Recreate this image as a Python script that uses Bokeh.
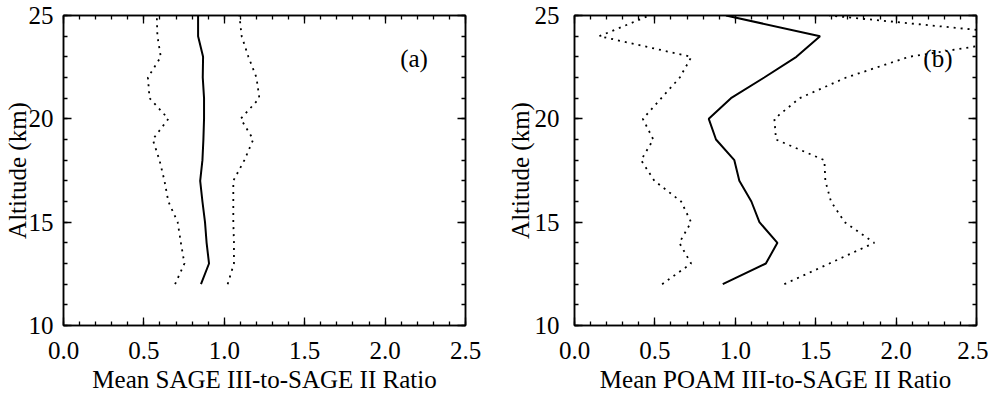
from bokeh.plotting import figure
from bokeh.layouts import row
from bokeh.models import Range1d, LinearAxis, SingleIntervalTicker, Label
from bokeh.embed import file_html
from bokeh.resources import INLINE

altitude = [12, 13, 14, 15, 16, 17, 18, 19, 20, 21, 22, 23, 24, 25]

sage3_mean = [0.855, 0.905, 0.89, 0.88, 0.864, 0.85, 0.864, 0.87, 0.874, 0.874, 0.866, 0.868, 0.837, 0.837]
sage3_low = [0.694, 0.752, 0.73, 0.71, 0.652, 0.628, 0.597, 0.555, 0.652, 0.535, 0.525, 0.605, 0.584, 0.58]
sage3_high = [1.021, 1.06, 1.06, 1.056, 1.056, 1.056, 1.125, 1.18, 1.102, 1.218, 1.2, 1.15, 1.108, 1.094]

poam_mean = [0.922, 1.19, 1.262, 1.15, 1.10, 1.025, 0.994, 0.88, 0.835, 0.973, 1.18, 1.38, 1.527, 0.942]
poam_low = [0.545, 0.725, 0.652, 0.725, 0.663, 0.497, 0.414, 0.49, 0.425, 0.54, 0.655, 0.727, 0.155, 0.466]
poam_high = [1.305, 1.585, 1.864, 1.68, 1.595, 1.56, 1.554, 1.253, 1.243, 1.40, 1.69, 2.08, 2.9, 1.585]

x_ticks = [0.0, 0.5, 1.0, 1.5, 2.0, 2.5]
y_ticks = [10, 15, 20, 25]
x_labels = ["Mean SAGE III-to-SAGE II Ratio", "Mean POAM III-to-SAGE II Ratio"]
y_label = "Altitude (km)"
panel_tags = ["(a)", "(b)"]

FONT = "Liberation Serif"
FS = "25px"


def style_axis(ax, show_labels, standoff=8):
    ax.axis_line_width = 1.5
    ax.axis_line_color = "black"
    ax.major_tick_in = 8
    ax.major_tick_out = 0
    ax.minor_tick_in = 4
    ax.minor_tick_out = 0
    ax.major_tick_line_width = 1.3
    ax.minor_tick_line_width = 1.3
    ax.major_tick_line_color = "black"
    ax.minor_tick_line_color = "black"
    if show_labels:
        ax.major_label_text_font = FONT
        ax.major_label_text_font_size = FS
        ax.major_label_text_color = "black"
        ax.major_label_standoff = standoff
        ax.axis_label_text_font = FONT
        ax.axis_label_text_font_size = FS
        ax.axis_label_text_font_style = "normal"
        ax.axis_label_text_color = "black"
    else:
        ax.major_label_text_font_size = "0px"
        ax.major_label_standoff = 0
        ax.axis_label = None


def make_panel(mean, low, high, xlabel, tag, tag_x, left, right, ystand, ylab_stand):
    p = figure(frame_width=402, frame_height=310,
               min_border_left=left, min_border_right=right,
               min_border_top=15, min_border_bottom=73,
               x_range=Range1d(0, 2.5), y_range=Range1d(10, 25),
               output_backend="svg", toolbar_location=None,
               x_axis_location=None, y_axis_location=None)
    p.grid.visible = False
    p.outline_line_color = "black"
    p.outline_line_width = 1.5
    p.background_fill_color = "white"
    p.border_fill_color = "white"

    xb = LinearAxis(ticker=SingleIntervalTicker(interval=0.5, num_minor_ticks=5),
                    axis_label=xlabel,
                    major_label_overrides={v: f"{v:.1f}" for v in x_ticks})
    style_axis(xb, True, 16)
    xb.axis_label_standoff = 4
    yl = LinearAxis(ticker=SingleIntervalTicker(interval=5, num_minor_ticks=5),
                    axis_label=y_label,
                    major_label_overrides={v: str(v) for v in y_ticks})
    style_axis(yl, True, ystand)
    yl.axis_label_standoff = ylab_stand
    xt = LinearAxis(ticker=SingleIntervalTicker(interval=0.5, num_minor_ticks=5))
    style_axis(xt, False)
    yr = LinearAxis(ticker=SingleIntervalTicker(interval=5, num_minor_ticks=5))
    style_axis(yr, False)
    p.add_layout(xb, "below")
    p.add_layout(yl, "left")
    p.add_layout(xt, "above")
    p.add_layout(yr, "right")

    p.line(mean, altitude, line_color="black", line_width=2)
    p.line(low, altitude, line_color="black", line_width=1.8, line_dash="2 5")
    p.line(high, altitude, line_color="black", line_width=1.8, line_dash="2 5")

    p.add_layout(Label(x=tag_x, y=22.9, text=tag, text_font=FONT, text_font_size=FS,
                       text_align="center", text_baseline="middle", text_color="black"))
    return p


pa = make_panel(sage3_mean, sage3_low, sage3_high, x_labels[0], panel_tags[0], 2.18,
                63, 34, 10, -5)
pb = make_panel(poam_mean, poam_low, poam_high, x_labels[1], panel_tags[1], 2.26,
                75, 12, 15, -2)

layout = row(pa, pb, spacing=0)
html = file_html(layout, INLINE)
html = html.replace("<body>", '<body style="margin:0;overflow:hidden">', 1)
open("out.html", "w").write(html)
